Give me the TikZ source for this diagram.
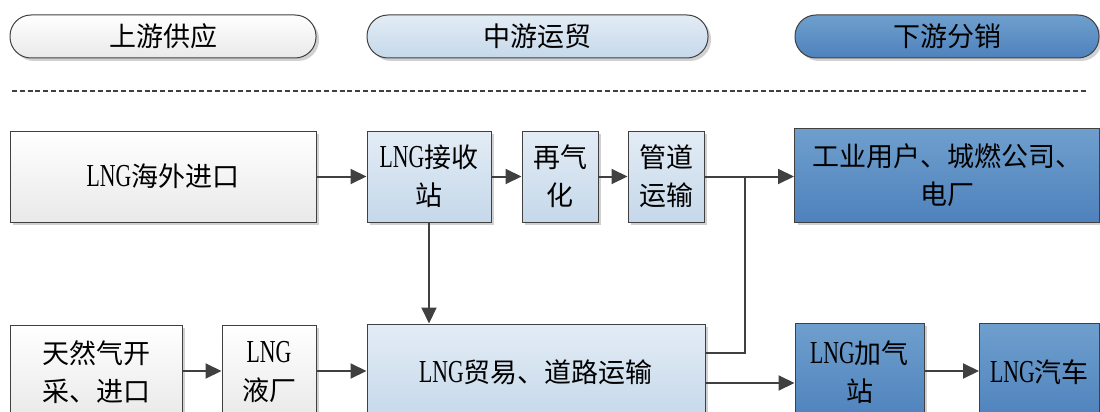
\documentclass[tikz,border=0pt]{standalone}
\usepackage{fontspec}
\usepackage{graphicx}
\setmainfont{Noto Sans CJK SC}
\newfontfamily\latf{Liberation Serif}
\usetikzlibrary{arrows.meta,shadows,calc}
\definecolor{bd}{HTML}{404040}
\definecolor{wtop}{HTML}{FFFFFF}
\definecolor{wbot}{HTML}{E9E9E9}
\definecolor{ltop}{HTML}{E3ECF5}
\definecolor{lbot}{HTML}{C5D8EA}
\definecolor{dtop}{HTML}{6E9FCD}
\definecolor{dbot}{HTML}{4F82BD}
\newcommand\LNG{{\latf\fontsize{32}{32}\selectfont\scalebox{0.68}[1]{LNG}}}
\tikzset{
  base/.style={rectangle, draw=bd, line width=1pt, inner sep=0pt, align=center,
    font=\fontsize{27}{38}\selectfont, text=black,
    drop shadow={shadow xshift=3pt, shadow yshift=-3pt, fill=black, opacity=0.18}},
  wbox/.style={base, top color=wtop, bottom color=wbot},
  lbox/.style={base, top color=ltop, bottom color=lbot},
  dbox/.style={base, top color=dtop, bottom color=dbot},
  pill/.style={rounded corners=21pt, minimum height=43pt},
  conn/.style={draw=bd, line width=2pt},
  arr/.style={conn, -{Triangle[length=16pt,width=15pt]}},
  dashline/.style={draw=bd, line width=2pt, dash pattern=on 5pt off 2.8pt}
}
\begin{document}
\begin{tikzpicture}[x=1pt,y=-1pt]
\useasboundingbox (0,0) rectangle (1100,412);
\clip (0,0) rectangle (1100,412);
% header pills
\node[wbox, pill, minimum width=306pt] (p1) at (163,36.5) {上游供应};
\node[lbox, pill, minimum width=341pt] (p2) at (537.5,36.5) {中游运贸};
\node[dbox, pill, minimum width=304pt] (p3) at (947,36.5) {下游分销};
% dashed separator
\coordinate (dl) at (12,91);
\coordinate (dr) at (1087,91);
\draw[dashline] (dl) -- (dr);
% row 1
\node[wbox, minimum width=306pt, minimum height=91pt] (a1) at (163,176.5) {\LNG{}海外进口};
\node[lbox, minimum width=124pt, minimum height=91pt] (a2) at (429,176.5) {\LNG{}接收\\站};
\node[lbox, minimum width=76pt, minimum height=91pt] (a3) at (560,176.5) {再气\\化};
\node[lbox, minimum width=76pt, minimum height=91pt] (a4) at (666,176.5) {管道\\运输};
\node[dbox, minimum width=305pt, minimum height=94pt] (a5) at (947,175) {工业用户、城燃公司、\\电厂};
% row 2
\node[wbox, minimum width=172pt, minimum height=94pt] (b1) at (96,372) {天然气开\\采、进口};
\node[wbox, minimum width=94pt, minimum height=94pt] (b2) at (269,372) {\LNG\\液厂};
\node[lbox, minimum width=338pt, minimum height=96pt] (b3) at (536,372) {\LNG{}贸易、道路运输};
\node[dbox, minimum width=129pt, minimum height=98pt] (b4) at (859.5,372) {\LNG{}加气\\站};
\node[dbox, minimum width=120pt, minimum height=98pt] (b5) at (1039.5,372) {\LNG{}汽车};
% connectors
\coordinate (j) at (745,176.5);
\draw[arr] (a1.east) -- (a2.west);
\draw[arr] (a2.east) -- (a3.west);
\draw[arr] (a3.east) -- (a4.west);
\draw[arr] (a4.east) -- (a4.east -| a5.west);
\draw[arr] (a2.south) -- (a2.south |- b3.north);
\draw[arr] ([yshift=1pt]b1.east) -- ([yshift=1pt]b2.west);
\draw[arr] ([yshift=1pt]b2.east) -- ([yshift=1pt]b3.west);
\coordinate (b3u) at ([yshift=19pt]b3.east);
\coordinate (b3d) at ([yshift=-11pt]b3.east);
\draw[conn] (b3u) -| (j);
\draw[arr] (b3d) -- (b3d -| b4.west);
\draw[arr] ([yshift=1pt]b4.east) -- ([yshift=1pt]b5.west);
\end{tikzpicture}
\end{document}
